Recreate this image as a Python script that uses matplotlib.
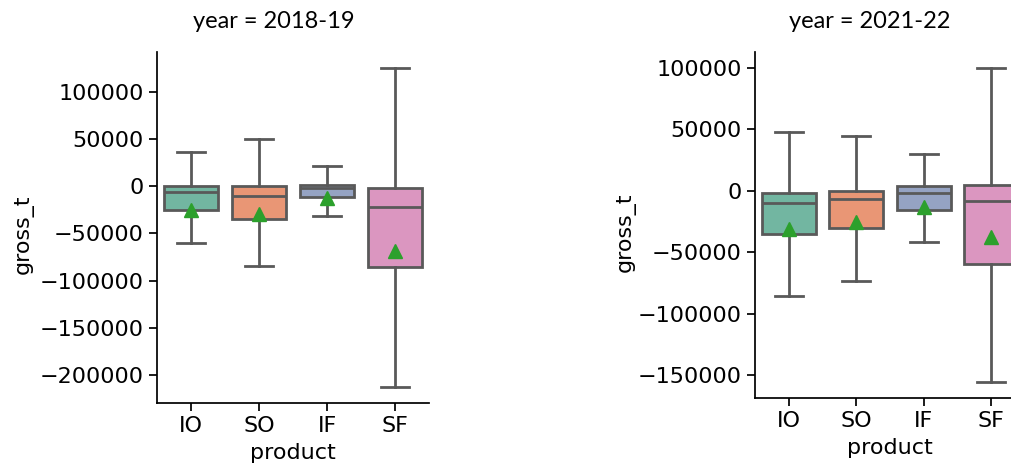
import colorsys
import matplotlib
matplotlib.use('Agg')
import matplotlib.pyplot as plt
from matplotlib.colors import to_rgb
from matplotlib.ticker import MultipleLocator

products = ['IO', 'SO', 'IF', 'SF']
years = ['2018-19', '2021-22']

# box stats (gross_t)
whislo_1819 = [-60200, -84800, -31700, -213000]
q1_1819 = [-25000, -34500, -11600, -85600]
med_1819 = [-6300, -9800, -2100, -22200]
q3_1819 = [500, 0, 1500, -1700]
whishi_1819 = [36700, 50000, 21900, 125700]
mean_1819 = [-24600, -29200, -12700, -68700]

whislo_2122 = [-85400, -73500, -41600, -155800]
q1_2122 = [-35200, -30000, -15500, -60000]
med_2122 = [-9800, -7100, -2000, -8200]
q3_2122 = [-1500, 0, 3700, 4500]
whishi_2122 = [47900, 44200, 29600, 100000]
mean_2122 = [-31100, -25700, -13000, -37300]

palette = ['#66c2a5', '#fc8d62', '#8da0cb', '#e78ac3']


def desaturate(c, prop=0.75):
    h, l, s = colorsys.rgb_to_hls(*to_rgb(c))
    return colorsys.hls_to_rgb(h, l, s * prop)


colors = [desaturate(c) for c in palette]
light = min(colorsys.rgb_to_hls(*to_rgb(c))[1] for c in palette)
gray = (light * 0.6,) * 3


def make_stats(whislo, q1, med, q3, whishi, mean):
    stats = []
    for i in range(len(products)):
        stats.append(dict(whislo=whislo[i], q1=q1[i], med=med[i], q3=q3[i],
                          whishi=whishi[i], mean=mean[i], label=products[i]))
    return stats


panels = [
    (years[0], make_stats(whislo_1819, q1_1819, med_1819, q3_1819, whishi_1819, mean_1819)),
    (years[1], make_stats(whislo_2122, q1_2122, med_2122, q3_2122, whishi_2122, mean_2122)),
]

W, H = 1011, 470
fig = plt.figure(figsize=(W / 100, H / 100), dpi=100)
rects = [[157 / W, 67 / H, 272 / W, 351 / H],
         [755 / W, 72 / H, 270 / W, 346 / H]]
title_x = [274, 870]
ylab_x = [-0.452, -0.44]

lw = 2.0
for k, (year, stats) in enumerate(panels):
    ax = fig.add_axes(rects[k])
    bp = ax.bxp(stats, positions=range(len(products)), widths=0.8,
                patch_artist=True, showmeans=True, showfliers=False,
                boxprops=dict(edgecolor=gray, linewidth=lw),
                whiskerprops=dict(color=gray, linewidth=lw),
                capprops=dict(color=gray, linewidth=lw),
                medianprops=dict(color=gray, linewidth=lw),
                meanprops=dict(marker='^', markerfacecolor='#2ca02c',
                               markeredgecolor='#2ca02c', markersize=10))
    for patch, c in zip(bp['boxes'], colors):
        patch.set_facecolor(c)
    for cap in bp['caps']:
        x = cap.get_xdata()
        mid = (x[0] + x[1]) / 2
        cap.set_xdata([mid - 0.21, mid + 0.21])
    ax.set_xlim(-0.5, len(products) - 0.5)
    ax.margins(y=0.05)
    ax.yaxis.set_major_locator(MultipleLocator(50000))
    ax.set_xticks(range(len(products)))
    ax.set_xticklabels(products)
    ax.spines['top'].set_visible(False)
    ax.spines['right'].set_visible(False)
    for s in ['left', 'bottom']:
        ax.spines[s].set_linewidth(1.25)
    ax.tick_params(labelsize=16, length=6, width=1.25)
    ax.set_xlabel('product', fontsize=16, labelpad=5)
    ax.set_ylabel('gross_t', fontsize=16)
    ax.yaxis.set_label_coords(ylab_x[k], 0.48)
    fig.text(title_x[k] / W, 1 - 22 / H, f'year = {year}', ha='center',
             va='center', fontsize=17, family='Lato')

fig.savefig('out.png', dpi=100)
